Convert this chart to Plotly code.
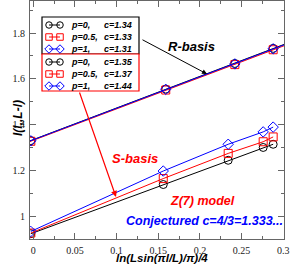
import numpy as np
import plotly.graph_objects as go

# ---------------- data ----------------
x_r = [-0.003, 0.159, 0.242, 0.288]
r_p0 = [1.330, 1.555, 1.667, 1.733]
r_p05 = [1.327, 1.551, 1.662, 1.727]
r_p1 = [1.329, 1.554, 1.665, 1.731]

x_s = [-0.003, 0.156, 0.234, 0.276, 0.288]
s_p0 = [0.923, 1.138, 1.244, 1.300, 1.314]
s_p05 = [0.926, 1.164, 1.274, 1.325, 1.346]
s_p1 = [0.933, 1.197, 1.314, 1.368, 1.389]

legend_r = ["p=0,", "p=0.5,", "p=1,"]
legend_r_c = ["c=1.34", "c=1.33", "c=1.31"]
legend_s_c = ["c=1.35", "c=1.37", "c=1.44"]

x_ticks = [0, 0.05, 0.1, 0.15, 0.2, 0.25, 0.3]
y_ticks = [1, 1.2, 1.4, 1.6, 1.8]

XR = [-0.004, 0.301]
YR = [0.9, 1.94]

colors = ["black", "red", "blue"]
symbols = ["circle-open", "square-open", "diamond-open"]

fig = go.Figure()

# R-basis: fit lines across the range + markers
for ys, c, s in zip([r_p0, r_p05, r_p1], colors, symbols):
    k, b = np.polyfit(x_r, ys, 1)
    xx = np.array(XR)
    fig.add_trace(go.Scatter(x=xx, y=k * xx + b, mode="lines",
                             line=dict(color=c, width=1), showlegend=False))
    fig.add_trace(go.Scatter(x=x_r, y=ys, mode="markers",
                             marker=dict(symbol=s, size=8, color=c, line=dict(width=1, color=c)),
                             showlegend=False))

# S-basis: lines + markers
for ys, c, s in zip([s_p0, s_p05, s_p1], colors, symbols):
    fig.add_trace(go.Scatter(x=x_s, y=ys, mode="lines+markers",
                             line=dict(color=c, width=1),
                             marker=dict(symbol=s, size=8, color=c, line=dict(width=1, color=c)),
                             showlegend=False))

# ---------------- manual legends (pixel overlay axes) ----------------
L, R, T, B = 30, 284, 1, 239


def px(x):
    return (x - L) / (R - L)


def py(y):
    return (B - y) / (B - T)


box_top = [17, 54]
box_h = 37
row_off = [8, 20, 32]
for bt, bc in zip(box_top, ["black", "red"]):
    fig.add_shape(type="rect", xref="x2", yref="y2", x0=42, x1=139, y0=bt, y1=bt + box_h,
                  line=dict(color=bc, width=1.2), fillcolor="white", layer="below")
for bt, cs in zip(box_top, [legend_r_c, legend_s_c]):
    for i in range(3):
        yy = bt + row_off[i]
        fig.add_trace(go.Scatter(x=[49, 60], y=[yy, yy], mode="lines+markers", xaxis="x2", yaxis="y2",
                                 line=dict(color=colors[i], width=1),
                                 marker=dict(symbol=symbols[i], size=6.5, color=colors[i],
                                             line=dict(width=1, color=colors[i])),
                                 showlegend=False, hoverinfo="skip"))
        fig.add_annotation(x=69, y=yy, xref="x2", yref="y2", text="<b><i>%s</i></b>" % legend_r[i],
                           showarrow=False, xanchor="left", yanchor="middle",
                           font=dict(family="Liberation Sans", size=9, color="black"))
        fig.add_annotation(x=102, y=yy, xref="x2", yref="y2", text="<b><i>%s</i></b>" % cs[i],
                           showarrow=False, xanchor="left", yanchor="middle",
                           font=dict(family="Liberation Sans", size=9, color="black"))


# ---------------- text annotations ----------------
def ann(text, x, y, color, size=13, yanchor="middle"):
    fig.add_annotation(x=px(x), y=py(y), xref="paper", yref="paper", text="<b><i>%s</i></b>" % text,
                       showarrow=False, xanchor="center", yanchor=yanchor, borderpad=0,
                       font=dict(family="Liberation Sans", size=size, color=color))


ann("R-basis", 191, 46, "black")
ann("S-basis", 135, 158, "red")
ann("Z(7) model", 202, 201, "red", 12.5)
ann("Conjectured c=4/3=1.333...", 204, 221, "blue", 12.5)

# arrows
fig.add_annotation(x=207, y=74, xref="x2", yref="y2", ax=141, ay=39, axref="x2", ayref="y2",
                   showarrow=True, arrowhead=2, arrowsize=1, arrowwidth=1, arrowcolor="black", text="")
fig.add_annotation(x=116, y=197, xref="x2", yref="y2", ax=79, ay=91, axref="x2", ayref="y2",
                   showarrow=True, arrowhead=2, arrowsize=1, arrowwidth=1.2, arrowcolor="red", text="")

# axis titles
ann("ln(Lsin(πl/L)/π)/4", 162, 265, "black", 11.5, yanchor="bottom")
fig.add_annotation(x=px(9), y=py(118), xref="paper", yref="paper", text="<b><i>I(l,,L-l)</i></b>",
                   textangle=-90, showarrow=False,
                   font=dict(family="Liberation Sans", size=12, color="black"))

axis_common = dict(showgrid=False, zeroline=False, showline=True, linecolor="#666", linewidth=1,
                   mirror="ticks", ticks="inside", ticklen=6, tickcolor="#666", tickwidth=1,
                   tickfont=dict(family="Liberation Serif", size=10, color="#222"))

fig.update_layout(
    width=291, height=265,
    margin=dict(l=L, r=291 - R, t=T, b=265 - B),
    paper_bgcolor="white", plot_bgcolor="white",
    showlegend=False,
    xaxis=dict(range=XR, tickvals=x_ticks, ticktext=[str(v) for v in x_ticks],
               ticklabelstandoff=2,
               minor=dict(dtick=0.025, ticklen=3, ticks="inside", tickcolor="#666"),
               **axis_common),
    yaxis=dict(range=YR, tickvals=y_ticks, ticktext=["1", "1.2", "1.4", "1.6", "1.8"],
               ticklabelstandoff=2,
               minor=dict(dtick=0.1, ticklen=3, ticks="inside", tickcolor="#666"),
               **axis_common),
    xaxis2=dict(range=[L, R], overlaying="x", visible=False, fixedrange=True),
    yaxis2=dict(range=[B, T], overlaying="y", visible=False, fixedrange=True),
)

fig.write_html("out.html", config={"displayModeBar": False},
               post_script="document.body.style.margin='0';")
